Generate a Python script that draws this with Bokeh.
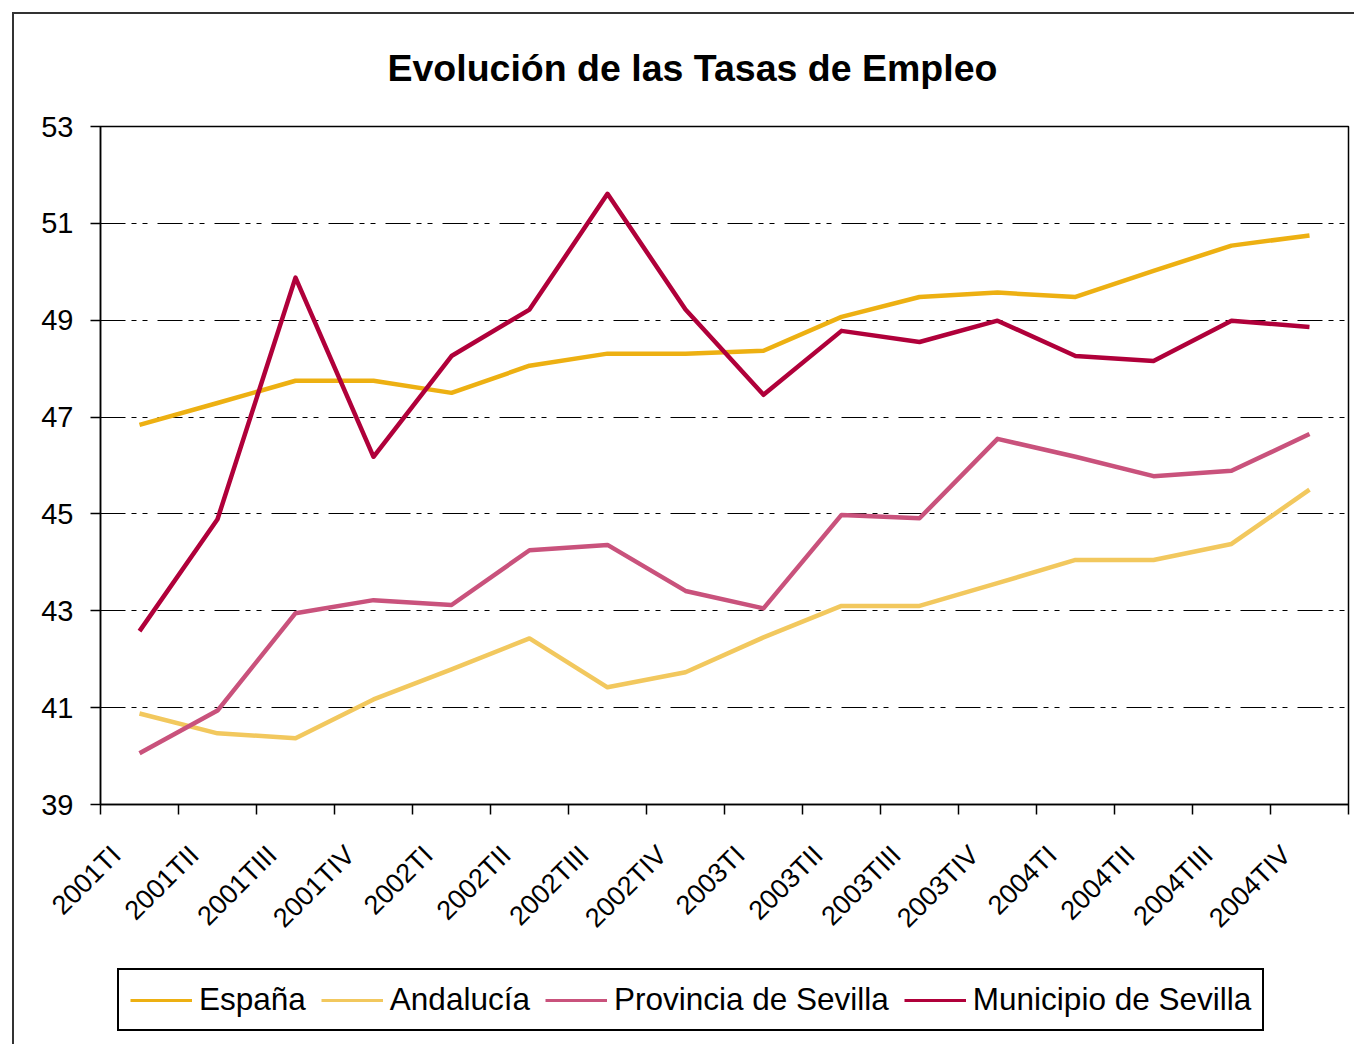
import math
from bokeh.plotting import figure
from bokeh.layouts import column
from bokeh.models import (FixedTicker, Legend, LegendItem, Range1d, InlineStyleSheet)
from bokeh.embed import file_html
from bokeh.resources import INLINE

categories = ["2001TI", "2001TII", "2001TIII", "2001TIV",
              "2002TI", "2002TII", "2002TIII", "2002TIV",
              "2003TI", "2003TII", "2003TIII", "2003TIV",
              "2004TI", "2004TII", "2004TIII", "2004TIV"]

espana = [46.84, 47.29, 47.75, 47.75, 47.50, 48.06, 48.31, 48.31,
          48.37, 49.07, 49.48, 49.57, 49.48, 50.02, 50.54, 50.75]
andalucia = [40.88, 40.47, 40.37, 41.17, 41.79, 42.43, 41.42, 41.73,
             42.45, 43.10, 43.10, 43.57, 44.05, 44.05, 44.38, 45.50]
provincia = [40.06, 40.94, 42.95, 43.22, 43.12, 44.25, 44.36, 43.41,
             43.05, 44.98, 44.91, 46.55, 46.18, 45.78, 45.89, 46.65]
municipio = [42.58, 44.89, 49.88, 46.18, 48.26, 49.22, 51.61, 49.22,
             47.46, 48.78, 48.55, 48.99, 48.26, 48.16, 48.99, 48.86]

series_names = ["España", "Andalucía", "Provincia de Sevilla", "Municipio de Sevilla"]
series_values = [espana, andalucia, provincia, municipio]
series_colors = ["#EDB012", "#F2C85E", "#C9527C", "#B0003A"]

y_ticks = [39, 41, 43, 45, 47, 49, 51, 53]

FONT = "Liberation Sans"

n = len(categories)
xs = [i + 0.5 for i in range(n)]
label_pos = [i + 0.2 for i in range(n)]

p = figure(width=1354, height=950, output_backend="svg", toolbar_location=None,
           x_range=Range1d(0, n), y_range=Range1d(39, 53),
           min_border_left=100, min_border_right=6, min_border_top=126,
           min_border_bottom=146, frame_width=1248, frame_height=678)

p.title.text = "Evolución de las Tasas de Empleo"
p.title.align = "left"
p.title.text_font = FONT
p.title.text_font_size = "37.5px"
p.title.text_font_style = "bold"
p.title.text_color = "#000000"
p.title.offset = 287
p.title.standoff = 75

p.outline_line_color = "#000000"
p.outline_line_width = 1.5
p.background_fill_color = "white"
p.border_fill_color = "white"

# y axis
p.yaxis.ticker = FixedTicker(ticks=y_ticks)
p.yaxis.major_tick_out = 10
p.yaxis.major_tick_in = 0
p.yaxis.minor_tick_out = 0
p.yaxis.minor_tick_in = 0
p.yaxis.axis_line_color = "#000000"
p.yaxis.axis_line_width = 1.5
p.yaxis.major_tick_line_color = "#000000"
p.yaxis.major_tick_line_width = 1.5
p.yaxis.major_label_text_font = FONT
p.yaxis.major_label_text_font_size = "29px"
p.yaxis.major_label_text_color = "#000000"
p.yaxis.major_label_standoff = 17

# x axis: labels near centers, ticks at category boundaries
p.xaxis.ticker = FixedTicker(ticks=label_pos, minor_ticks=list(range(n + 1)))
p.xaxis.major_label_overrides = {x: c for x, c in zip(label_pos, categories)}
p.xaxis.major_tick_out = 0
p.xaxis.major_tick_in = 0
p.xaxis.minor_tick_out = 10
p.xaxis.minor_tick_in = 0
p.xaxis.minor_tick_line_color = "#000000"
p.xaxis.minor_tick_line_width = 1.5
p.xaxis.axis_line_color = "#000000"
p.xaxis.axis_line_width = 1.5
p.xaxis.major_label_orientation = math.pi / 4
p.xaxis.major_label_text_font = FONT
p.xaxis.major_label_text_font_size = "27px"
p.xaxis.major_label_text_color = "#000000"
p.xaxis.major_label_standoff = 36

p.xgrid.grid_line_color = None
p.ygrid.ticker = FixedTicker(ticks=y_ticks)
p.ygrid.grid_line_color = "#000000"
p.ygrid.grid_line_width = 1
p.ygrid.grid_line_dash = "25 6 5 6 5 10"

for name, vals, col in zip(series_names, series_values, series_colors):
    p.line(xs, vals, line_color=col, line_width=4.5, line_join="round")

# legend strip below the chart (its series lie outside its own view range,
# so only the legend keys are visible)
q = figure(width=1354, height=94, output_backend="svg", toolbar_location=None,
           x_range=Range1d(0, n), y_range=Range1d(0, 1),
           x_axis_location=None, y_axis_location=None, min_border=0)
q.grid.visible = False
q.outline_line_color = None
q.background_fill_color = "white"
q.border_fill_color = "white"

items = []
for name, vals, col in zip(series_names, series_values, series_colors):
    r = q.line(xs, vals, line_color=col, line_width=3)
    items.append(LegendItem(label=name, renderers=[r]))

legend = Legend(items=items, orientation="horizontal", location=(17, 13),
                label_text_font=FONT, label_text_font_size="31.5px",
                label_text_color="#000000", glyph_width=62, glyph_height=30,
                label_standoff=7, spacing=15, padding=11, margin=0,
                border_line_color="#000000", border_line_width=2,
                border_line_alpha=1,
                background_fill_color="white", background_fill_alpha=1)
q.add_layout(legend, "center")

p.stylesheets = [InlineStyleSheet(css="""
:host::after {
  content: "";
  position: absolute;
  left: 12px;
  top: 12px;
  right: 0px;
  bottom: 0px;
  border-left: 2px solid #333333;
  border-top: 2px solid #333333;
  pointer-events: none;
}
""")]
q.stylesheets = [InlineStyleSheet(css="""
:host::after {
  content: "";
  position: absolute;
  left: 12px;
  top: 0px;
  right: 0px;
  bottom: 0px;
  border-left: 2px solid #333333;
  pointer-events: none;
}
""")]

layout = column(p, q, spacing=0)

open("out.html", "w").write(file_html(layout, INLINE))
